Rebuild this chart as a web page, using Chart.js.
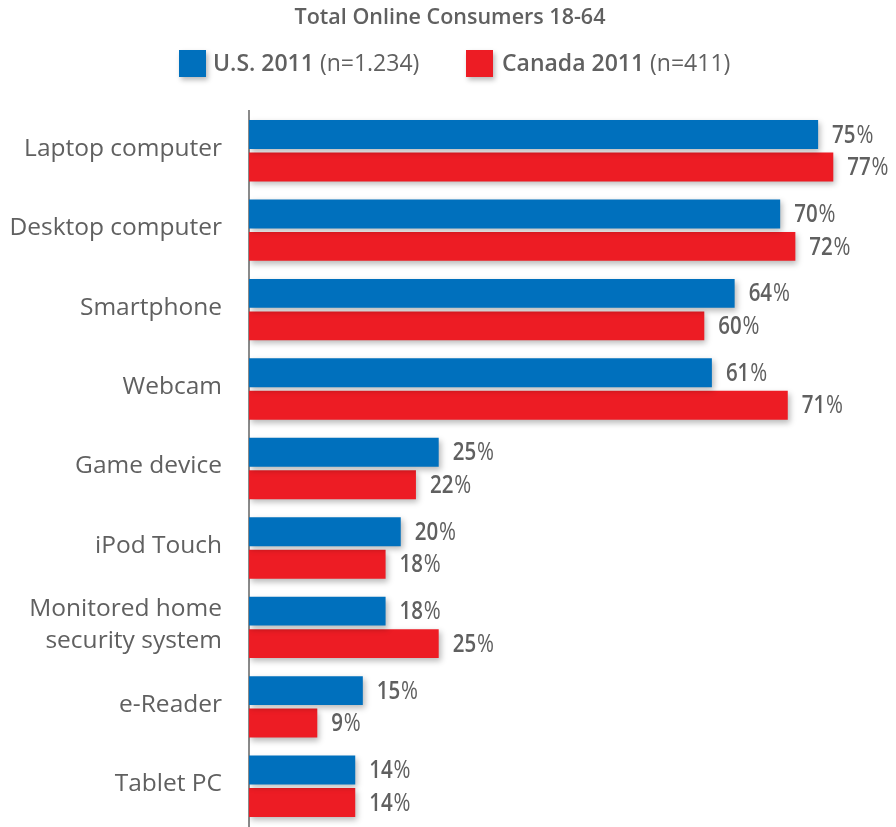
<!DOCTYPE html>
<html>
<head>
<meta charset="utf-8">
<script src="https://cdn.jsdelivr.net/npm/chart.js@4/dist/chart.umd.min.js"></script>
<style>
  html, body { margin: 0; padding: 0; background: #ffffff; overflow: hidden; }
  canvas { display: block; }
</style>
</head>
<body>
<canvas id="chart" width="896" height="827"></canvas>
<script>
// Device ownership among online consumers, in percent
const categories = [
  'Laptop computer',
  'Desktop computer',
  'Smartphone',
  'Webcam',
  'Game device',
  'iPod Touch',
  ['Monitored home', 'security system'],
  'e-Reader',
  'Tablet PC'
];
const us2011 = [75, 70, 64, 61, 25, 20, 18, 15, 14];
const canada2011 = [77, 72, 60, 71, 22, 18, 25, 9, 14];

const seriesNames = ['U.S. 2011', 'Canada 2011'];
const seriesNotes = ['(n=1.234)', '(n=411)'];
const seriesColors = ['#0070BD', '#ED1C24'];
const chartTitle = 'Total Online Consumers 18-64';

const FONT = '"Open Sans", "Noto Sans", sans-serif';
const TEXT_COLOR = '#606060';

// soft drop shadow under the bars
const barShadow = {
  id: 'barShadow',
  beforeDatasetsDraw(chart) {
    const ctx = chart.ctx;
    ctx.save();
    ctx.shadowColor = 'rgba(0,0,0,0.28)';
    ctx.shadowBlur = 6;
    ctx.shadowOffsetX = 2;
    ctx.shadowOffsetY = 3;
  },
  afterDatasetsDraw(chart) {
    chart.ctx.restore();
  }
};

// value labels: bold number followed by a regular percent sign,
// set in a narrowed face
const valueLabels = {
  id: 'valueLabels',
  afterDatasetsDraw(chart) {
    const ctx = chart.ctx;
    const squeeze = 0.82;
    ctx.save();
    ctx.fillStyle = TEXT_COLOR;
    ctx.textBaseline = 'middle';
    ctx.textAlign = 'left';
    chart.data.datasets.forEach((ds, di) => {
      const meta = chart.getDatasetMeta(di);
      meta.data.forEach((bar, i) => {
        const num = String(ds.data[i]);
        ctx.save();
        ctx.translate(bar.x + 14, bar.y + 1);
        ctx.scale(squeeze, 1);
        ctx.font = '600 25px ' + FONT;
        ctx.fillText(num, 0, 0);
        const w = ctx.measureText(num).width;
        ctx.font = '400 25px ' + FONT;
        ctx.fillText('%', w + 1, 0);
        ctx.restore();
      });
    });
    ctx.restore();
  }
};

// title and legend above the plot
const header = {
  id: 'header',
  afterDraw(chart) {
    const ctx = chart.ctx;
    ctx.save();
    ctx.fillStyle = TEXT_COLOR;
    ctx.textBaseline = 'middle';
    ctx.textAlign = 'center';
    ctx.font = '600 21.5px ' + FONT;
    ctx.fillText(chartTitle, 450, 18);

    const items = [
      { box: 179, text: 213 },
      { box: 466, text: 502 }
    ];
    items.forEach((it, i) => {
      ctx.save();
      ctx.shadowColor = 'rgba(0,0,0,0.28)';
      ctx.shadowBlur = 5;
      ctx.shadowOffsetX = 2;
      ctx.shadowOffsetY = 3;
      ctx.fillStyle = seriesColors[i];
      ctx.fillRect(it.box, 50, 27, 27);
      ctx.restore();
      ctx.fillStyle = TEXT_COLOR;
      ctx.textAlign = 'left';
      ctx.font = '600 23px ' + FONT;
      ctx.fillText(seriesNames[i], it.text, 64);
      const w = ctx.measureText(seriesNames[i] + ' ').width;
      ctx.font = '400 23px ' + FONT;
      ctx.fillText(seriesNotes[i], it.text + w, 64);
    });
    ctx.restore();
  }
};

new Chart(document.getElementById('chart'), {
  type: 'bar',
  data: {
    labels: categories,
    datasets: [
      { label: seriesNames[0], data: us2011, backgroundColor: seriesColors[0] },
      { label: seriesNames[1], data: canada2011, backgroundColor: seriesColors[1] }
    ]
  },
  options: {
    indexAxis: 'y',
    responsive: false,
    animation: false,
    devicePixelRatio: 1,
    categoryPercentage: 0.818,
    barPercentage: 0.89,
    layout: { padding: { top: 111, bottom: 1, right: 2, left: 0 } },
    plugins: {
      legend: { display: false },
      title: { display: false },
      tooltip: { enabled: false }
    },
    scales: {
      x: {
        display: false,
        min: 0,
        max: 85,
        grid: { display: false }
      },
      y: {
        grid: { display: false, drawTicks: false },
        border: { display: true, color: '#8a8a8a', width: 2 },
        ticks: {
          color: TEXT_COLOR,
          padding: 27,
          labelOffset: -2,
          font: { family: FONT, size: 24.5, weight: '400', lineHeight: 1.3 }
        },
        afterFit(scale) {
          scale.width = 249;
          // the plot runs to the bottom edge; labels need no extra room
          scale.paddingTop = 0;
          scale.paddingBottom = 0;
        }
      }
    }
  },
  plugins: [barShadow, valueLabels, header]
});
</script>
</body>
</html>
